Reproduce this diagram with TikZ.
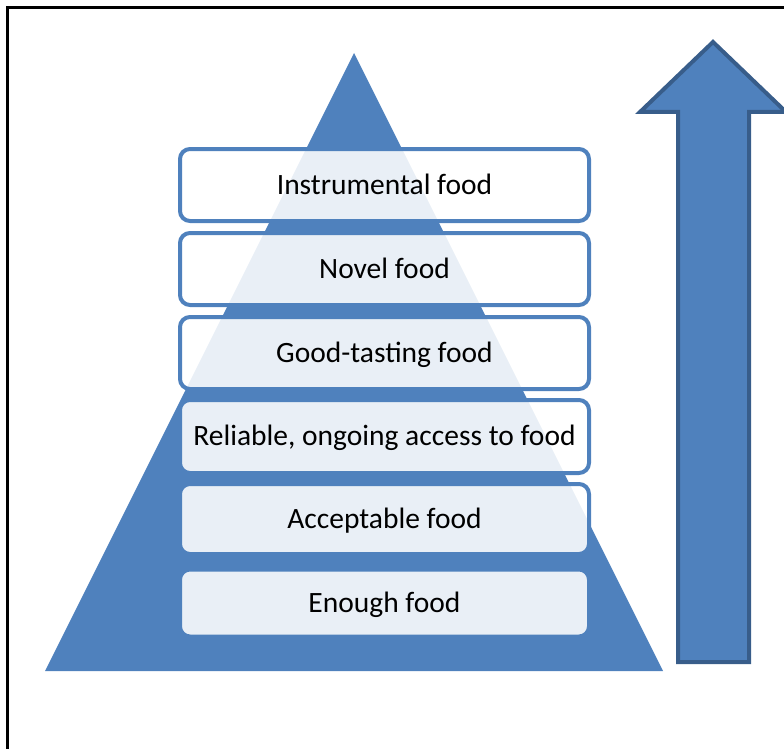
\documentclass[tikz,border=0pt]{standalone}
\usepackage{fontspec}
\setmainfont{Carlito}
\definecolor{pyblue}{HTML}{4F81BD}
\definecolor{pydark}{HTML}{385D8A}
\tikzset{
  level/.style={draw=pyblue, line width=4pt, rounded corners=10pt,
    fill=white, fill opacity=0.88, text opacity=1,
    minimum width=409pt, inner sep=0pt,
    text height=18.5pt, text depth=0pt, font=\fontsize{29.5}{34}\selectfont},
}
\begin{document}
\begin{tikzpicture}[x=1pt,y=-1pt]
\useasboundingbox (0,0) rectangle (784,749);
\clip (0,0) rectangle (784,749);
% frame
\draw[line width=2.6pt] (7.5,7.3) rectangle (830,800);
% pyramid
\fill[pyblue] (354,53) -- (663,671) -- (45,671) -- cycle;
% levels
\node[level, minimum height=72pt] (b1) at (384.5,185) {Instrumental food};
\node[level, minimum height=72pt] (b2) at (384.5,269) {Novel food};
\node[level, minimum height=72pt] (b3) at (384.5,353) {Good-tasting food};
\node[level, minimum height=73pt] (b4) at (384.5,436.5) {Reliable, ongoing access to food};
\node[level, minimum height=70pt] (b5) at (384.5,519) {Acceptable food};
\node[level, minimum height=67pt] (b6) at (384.5,603) {Enough food};
% arrow
\draw[pydark, fill=pyblue, line width=4pt, line join=miter]
  (713,42) -- (786,112) -- (749,112) -- (749,662) -- (678,662)
  -- (678,112) -- (640,112) -- cycle;
\end{tikzpicture}
\end{document}
